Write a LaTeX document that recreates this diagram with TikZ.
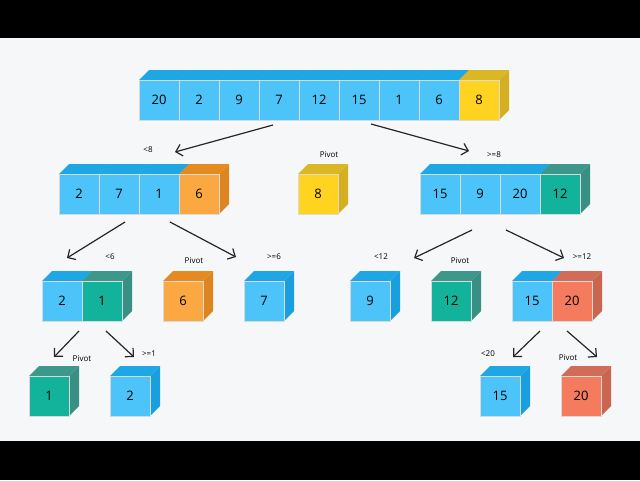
\documentclass[tikz,border=0pt]{standalone}
\usepackage{fontspec}
\setmainfont{Open Sans}
\definecolor{bF}{HTML}{4CC3F9}\definecolor{bT}{HTML}{1FA6E5}\definecolor{bS}{HTML}{199FDF}
\definecolor{yF}{HTML}{FFD320}\definecolor{yT}{HTML}{DBB625}\definecolor{yS}{HTML}{D4B020}
\definecolor{oF}{HTML}{FBA842}\definecolor{oT}{HTML}{E38A20}\definecolor{oS}{HTML}{DD851E}
\definecolor{tF}{HTML}{12B39A}\definecolor{tT}{HTML}{3D978A}\definecolor{tS}{HTML}{388F83}
\definecolor{sF}{HTML}{F47B5D}\definecolor{sT}{HTML}{D06C57}\definecolor{sS}{HTML}{C96650}
\definecolor{bg}{HTML}{F6F7F9}\definecolor{edge}{HTML}{3A8FC0}
\newcommand{\qcube}[5]{% name, x, y, color prefix, text
  \fill[#4T] (#2,#3) -- (#2+10,#3-10) -- (#2+50,#3-10) -- (#2+40,#3) -- cycle;
  \fill[#4S] (#2+40,#3) -- (#2+50,#3-10) -- (#2+50,#3+30) -- (#2+40,#3+40) -- cycle;
  \node[face, fill=#4F] (#1) at (#2+20,#3+20) {#5};}
\begin{document}
\begin{tikzpicture}[x=1pt,y=-1pt,
  face/.style={draw=black!15, line width=0.3pt, minimum size=40pt, inner sep=0pt, font=\fontsize{13}{13}\selectfont},
  lab/.style={font=\fontsize{8}{8}\selectfont},
  arr/.style={->, line width=1.2pt, draw=black!85, >={Straight Barb[length=6pt,width=12pt]}}]
\usetikzlibrary{arrows.meta}
\fill[bg] (0,0) rectangle (640,480);
\fill[black] (0,0) rectangle (640,38);
\fill[black] (0,441) rectangle (640,480);
% row 1
\foreach \v [count=\i from 0] in {20,2,9,7,12,15,1,6}{\qcube{r\i}{139+40*\i}{80}{b}{\v}}
\qcube{r8}{459}{80}{y}{8}
% row 2
\qcube{a0}{59}{174}{b}{2}\qcube{a1}{99}{174}{b}{7}\qcube{a2}{139}{174}{b}{1}\qcube{a3}{179}{174}{o}{6}
\qcube{p1}{298}{174}{y}{8}
\qcube{c0}{420}{174}{b}{15}\qcube{c1}{460}{174}{b}{9}\qcube{c2}{500}{174}{b}{20}\qcube{c3}{540}{174}{t}{12}
% row 3
\qcube{d0}{42}{281}{b}{2}\qcube{d1}{82}{281}{t}{1}
\qcube{p2}{163}{281}{o}{6}
\qcube{e0}{244}{281}{b}{7}
\qcube{f0}{350}{281}{b}{9}
\qcube{p3}{431}{281}{t}{12}
\qcube{g0}{512}{281}{b}{15}\qcube{g1}{552}{281}{s}{20}
% row 4
\qcube{h0}{29}{376}{t}{1}\qcube{h1}{110}{376}{b}{2}
\qcube{k0}{480}{376}{b}{15}\qcube{k1}{561}{376}{s}{20}
% arrow ends
\foreach \n/\x/\y in {s1/273/125,t1/175/152,s2/371/124,t2/469/151,
  s3/125/222,t3/67/258,s4/170/222,t4/236/257,
  s5/472/230,t5/414/258,s6/506/230,t6/564/258,
  s7/79/331,t7/54/357,s8/106/331,t8/134/357,
  s9/540/331,t9/513/357,s10/567/331,t10/597/357}{\coordinate (\n) at (\x,\y);}
\foreach \i in {1,...,10}{\draw[arr] (s\i) -- (t\i);}
% labels
\node[lab] (l1) at (148,150) {<8};
\node[lab] (l2) at (329,155) {Pivot};
\node[lab] (l3) at (494,155) {>=8};
\node[lab] (l4) at (110,257) {<6};
\node[lab] (l5) at (194,261) {Pivot};
\node[lab] (l6) at (274,257) {>=6};
\node[lab] (l7) at (381,257) {<12};
\node[lab] (l8) at (460,261) {Pivot};
\node[lab] (l9) at (582,257) {>=12};
\node[lab] (l10) at (82,359) {Pivot};
\node[lab] (l11) at (149,354) {>=1};
\node[lab] (l12) at (488,354) {<20};
\node[lab] (l13) at (568,358) {Pivot};
\end{tikzpicture}
\end{document}
